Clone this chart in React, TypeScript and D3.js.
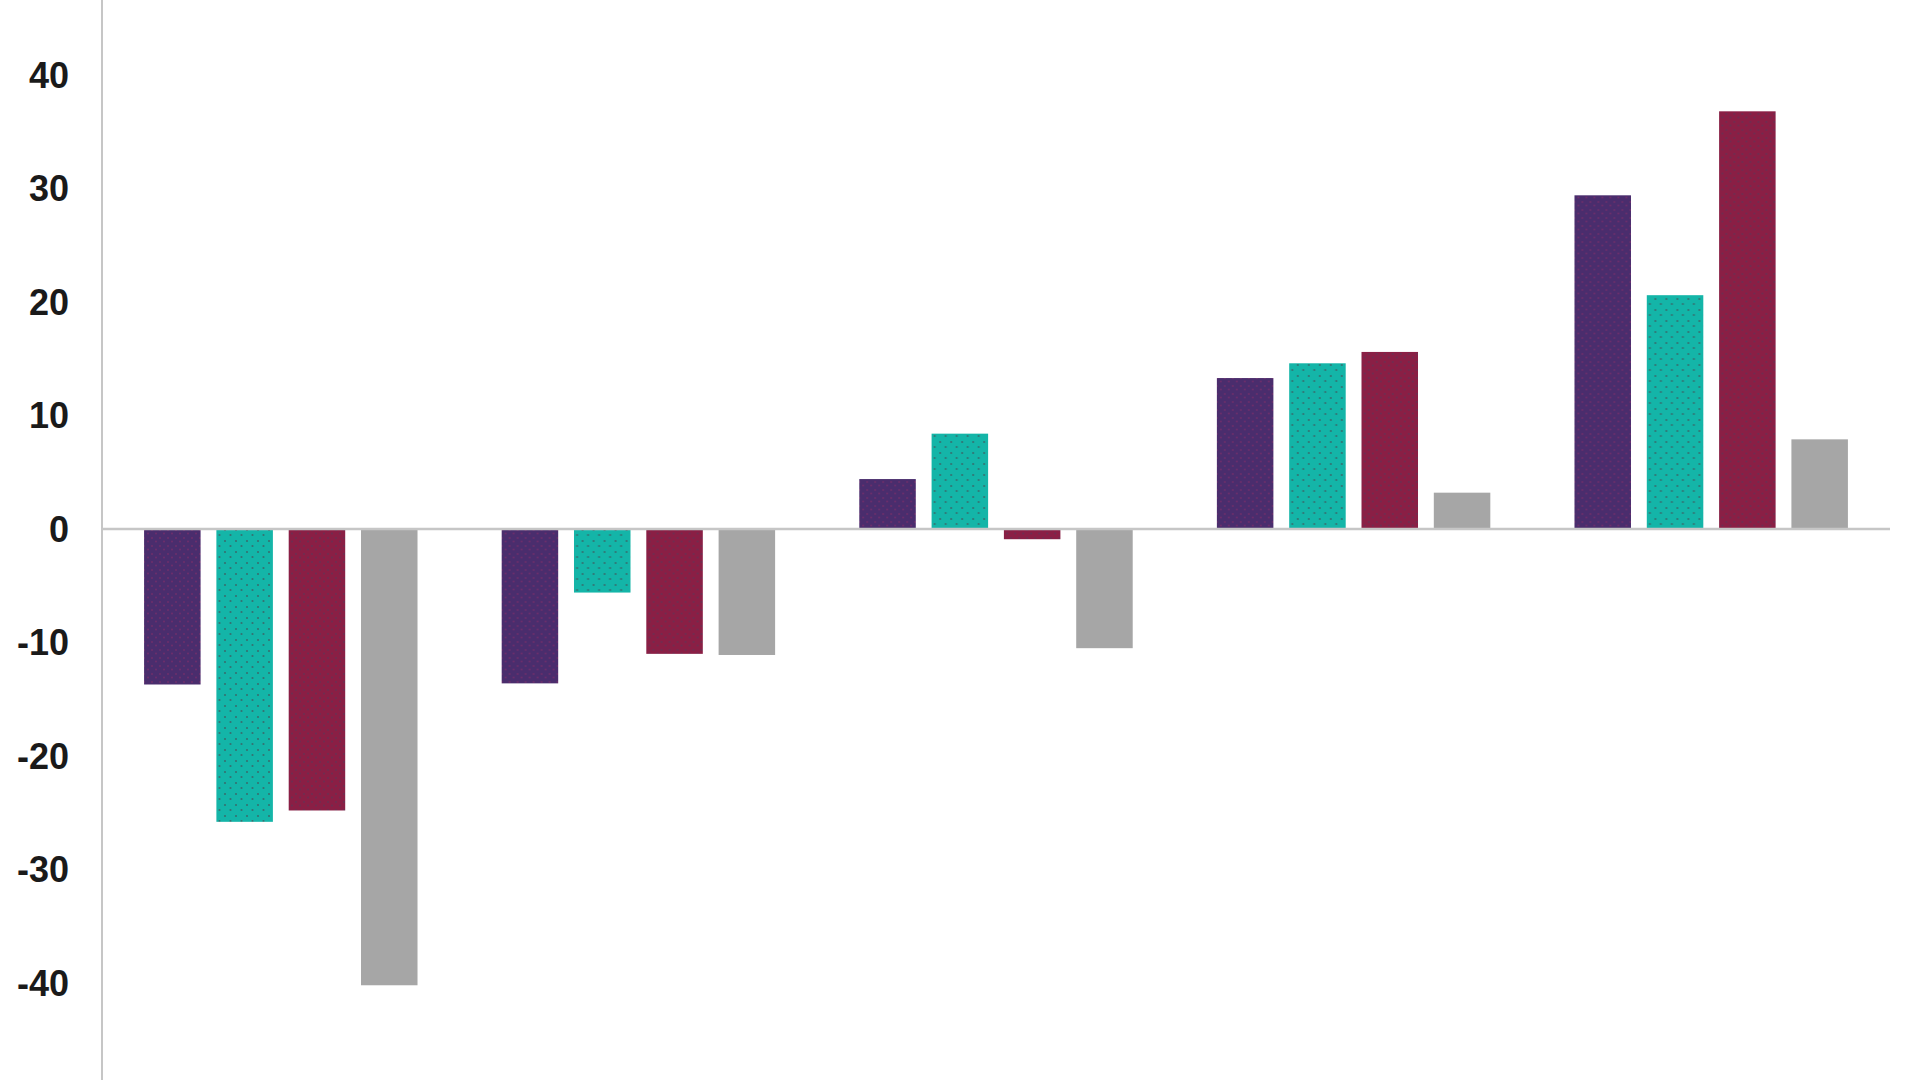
import React from "react";
import * as d3 from "d3";

const categories = ["G1", "G2", "G3", "G4", "G5"];
const seriesNames = ["S1", "S2", "S3", "S4"];
const s1Values = [-13.7, -13.6, 4.4, 13.3, 29.4];
const s2Values = [-25.8, -5.6, 8.4, 14.6, 20.6];
const s3Values = [-24.8, -11.0, -0.9, 15.6, 36.8];
const s4Values = [-40.2, -11.1, -10.5, 3.2, 7.9];
const yTicks = [40, 30, 20, 10, 0, -10, -20, -30, -40];

const seriesValues = [s1Values, s2Values, s3Values, s4Values];
const colors = ["#4a2d6d", "#14b5a8", "#8a1f45", "#a6a6a6"];
const dotColors = ["#7b2d6a", "#3c5f63", "#5e3455", "#9a9a9a"];

const W = 1920;
const H = 1080;
const axisX = 102;
const plotRight = 1890;

export default function App() {
  const y = d3.scaleLinear().domain([-40, 40]).range([983, 75]);
  const x0 = d3.scaleBand<string>().domain(categories).range([axisX, plotRight]).padding(0);
  const x1 = d3
    .scaleBand<string>()
    .domain(seriesNames)
    .range([0, x0.bandwidth()])
    .paddingInner(0.2185)
    .paddingOuter(0.582);

  return (
    <div style={{ position: "absolute", left: 0, top: 0 }}>
      <svg width={W} height={H} style={{ display: "block", background: "#ffffff" }}>
        <defs>
          {seriesNames.map((s, i) => (
            <pattern
              key={s}
              id={`pat${i}`}
              width={i === 1 ? 11 : 8}
              height={i === 1 ? 11 : 8}
              patternUnits="userSpaceOnUse"
            >
              <rect width={i === 1 ? 11 : 8} height={i === 1 ? 11 : 8} fill={colors[i]} />
              {i !== 3 && (
                <>
                  <circle cx={2} cy={2} r={i === 1 ? 1.1 : 0.9} fill={dotColors[i]} opacity={0.8} />
                  <circle cx={i === 1 ? 7.5 : 6} cy={i === 1 ? 7 : 5.5} r={i === 1 ? 1.1 : 0.9} fill={dotColors[i]} opacity={0.8} />
                </>
              )}
            </pattern>
          ))}
        </defs>

        {/* y axis line */}
        <line x1={axisX} x2={axisX} y1={0} y2={H} stroke="#c6c6c6" strokeWidth={2} />

        {/* tick labels */}
        {yTicks.map((t) => (
          <text
            key={t}
            x={69}
            y={y(t)}
            textAnchor="end"
            dominantBaseline="central"
            fontFamily="'Liberation Sans', Arial, sans-serif"
            fontWeight="bold"
            fontSize={36}
            fill="#1a1a1a"
          >
            {t}
          </text>
        ))}

        {/* bars */}
        {categories.map((c, ci) => (
          <g key={c} transform={`translate(${x0(c)},0)`}>
            {seriesNames.map((s, si) => {
              const v = seriesValues[si][ci];
              const y0 = y(0);
              const yv = y(v);
              return (
                <rect
                  key={s}
                  x={x1(s)}
                  y={Math.min(y0, yv)}
                  width={x1.bandwidth()}
                  height={Math.abs(yv - y0)}
                  fill={`url(#pat${si})`}
                />
              );
            })}
          </g>
        ))}

        {/* zero line */}
        <line x1={axisX} x2={plotRight} y1={y(0)} y2={y(0)} stroke="#c6c6c6" strokeWidth={2.5} />
      </svg>
    </div>
  );
}
